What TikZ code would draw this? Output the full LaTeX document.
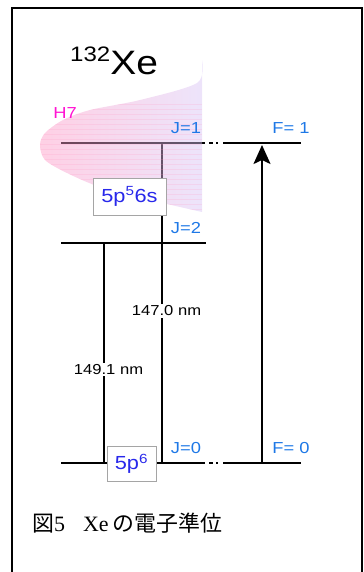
\documentclass[tikz,border=0pt]{standalone}
\usepackage{fontspec}
\setmainfont{Liberation Sans}
\newfontfamily\cjkfont{Noto Sans CJK JP}
\newfontfamily\seriffont{Liberation Serif}
\usepackage{graphicx}
\usetikzlibrary{arrows.meta}
\definecolor{levblue}{RGB}{30,120,230}
\definecolor{cfgblue}{RGB}{40,40,235}
\definecolor{boxgray}{RGB}{165,165,165}
\definecolor{h7pink}{RGB}{255,20,210}
\definecolor{h7left}{RGB}{255,150,195}
\definecolor{h7mid}{RGB}{245,195,225}
\definecolor{h7right}{RGB}{215,195,245}
\newcommand{\stretchtxt}[1]{\scalebox{1.15}[1]{#1}}

\begin{document}
\begin{tikzpicture}[x=1bp,y=-1bp,
  lev/.style={line width=2bp},
  gap/.style={line width=2bp,dash pattern=on 0bp off 4bp on 4bp off 3bp on 2bp off 10bp},
  jlab/.style={text=levblue,font=\fontsize{16}{16}\selectfont,inner sep=0pt},
  cfgbox/.style={draw=boxgray,line width=0.8bp,fill=white,text=cfgblue,font=\fontsize{19}{19}\selectfont,inner sep=0pt},
  nmlab/.style={fill=white,font=\fontsize{14.5}{14.5}\selectfont,inner sep=1.5bp}]
\useasboundingbox (0,0) rectangle (363,572);
% frame
\draw[line width=2bp] (12,572) -- (12,8.5) -- (362,8.5) -- (362,572);
% level ends
\coordinate (j1L) at (61,143.5); \coordinate (j1R) at (205,143.5);
\coordinate (f1L) at (223,143.5); \coordinate (f1R) at (301,143.5);
\coordinate (j2L) at (61,243);   \coordinate (j2R) at (206,243);
\coordinate (j0L) at (61,462.5); \coordinate (j0R) at (205,462.5);
\coordinate (f0L) at (223,462.5); \coordinate (f0R) at (301,462.5);
% levels
\draw[lev] (j1L) -- (j1R);
\draw[gap] (j1R) -- (f1L);
\draw[lev] (f1L) -- (f1R);
\draw[lev] (j2L) -- (j2R);
\draw[lev] (j0L) -- (j0R);
\draw[gap] (j0R) -- (f0L);
\draw[lev] (f0L) -- (f0R);
% transitions
\coordinate (upA) at (162,143.5); \coordinate (dnA) at (162,462.5);
\coordinate (upB) at (104,243);   \coordinate (dnB) at (104,462.5);
\coordinate (arrB) at (262,462.5); \coordinate (arrT) at (262,145);
\draw[lev] (upA) -- (dnA);
\draw[lev] (upB) -- (dnB);
\draw[lev,-{Stealth[length=19bp,width=17bp,inset=4bp]}] (arrB) -- (arrT);
% H7 profile
\begin{scope}
\path[clip] plot[smooth] coordinates {(202,60) (197,83) (140,100) (90,110) (63,120) (45,133) (40,145) (45,160) (67,173) (100,187) (150,200) (202,212)} -- cycle;
\shade[left color=h7left,middle color=h7mid,right color=h7right,opacity=0.45] (36,55) rectangle (203,216);
\foreach \yy in {104,109,...,212}
  \draw[h7left,opacity=0.2,line width=0.5bp] (36,\yy) -- (203,\yy);
\end{scope}
% labels
\node[anchor=base west,inner sep=0pt] (title) at (70,75)
  {\fontsize{34}{34}\selectfont\stretchtxt{\raisebox{13bp}{\fontsize{21}{21}\selectfont 132}Xe}};
\node[text=h7pink,font=\fontsize{16}{16}\selectfont,inner sep=0pt] (h7) at (65,113) {\stretchtxt{H7}};
\node[jlab] (jone) at (186,128.5) {\stretchtxt{J=1}};
\node[jlab] (jtwo) at (186,228) {\stretchtxt{J=2}};
\node[jlab] (jzero) at (186,448.5) {\stretchtxt{J=0}};
\node[jlab] (fone) at (291,128.5) {\stretchtxt{F= 1}};
\node[jlab] (fzero) at (291,448.5) {\stretchtxt{F= 0}};
\node[cfgbox,minimum width=73bp,minimum height=37bp] (exc) at (129.5,196.5) {\stretchtxt{5p\textsuperscript{5}6s}};
\node[cfgbox,minimum width=49bp,minimum height=35bp] (gnd) at (131.5,463.5) {\stretchtxt{5p\textsuperscript{6}}};
\node[nmlab] (lineA) at (166.5,311) {\stretchtxt{147.0 nm}};
\node[nmlab] (lineB) at (108.5,369.5) {\stretchtxt{149.1 nm}};
% caption
\node[anchor=west,inner sep=0pt] (caption) at (32,523)
  {\fontsize{22}{26}\selectfont{\cjkfont 図}{\seriffont 5}\hspace{18bp}{\seriffont Xe}\hspace{4bp}{\cjkfont の電子準位}};
\end{tikzpicture}
\end{document}
